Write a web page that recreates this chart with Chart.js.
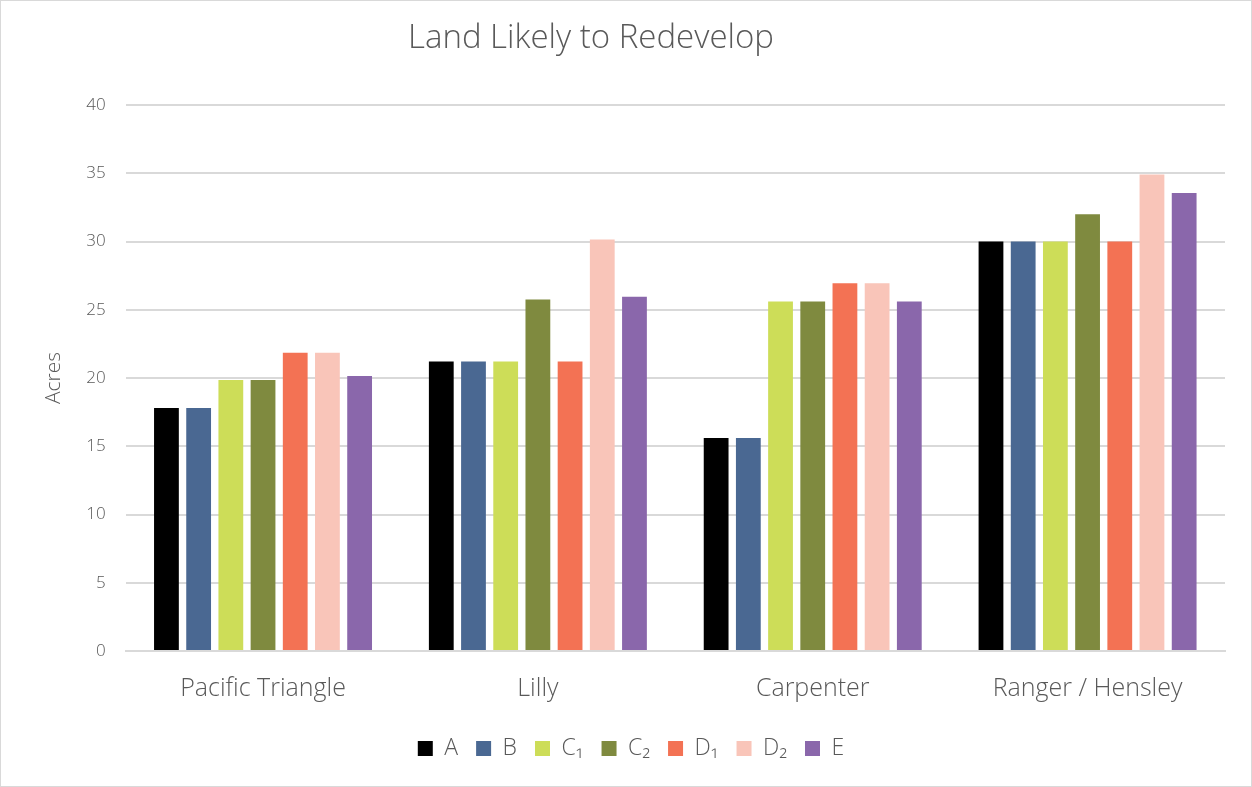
<!DOCTYPE html>
<html>
<head>
<meta charset="utf-8">
<script src="https://cdn.jsdelivr.net/npm/chart.js@4"></script>
<style>
  html, body { margin: 0; padding: 0; background: #fff; }
  #wrap { position: relative; width: 1252px; height: 787px; box-sizing: border-box; border: 1px solid #d9d9d9; }
  canvas { display: block; }
</style>
</head>
<body>
<div id="wrap"><canvas id="landChart" width="1250" height="785"></canvas></div>
<script>
const areas = ["Pacific Triangle", "Lilly", "Carpenter", "Ranger / Hensley"];
const seriesNames = ["A", "B", "C\u2081", "C\u2082", "D\u2081", "D\u2082", "E"];
const seriesColors = ["#000000", "#4a6892", "#cddd58", "#7f8a3f", "#f37254", "#f9c5b9", "#8a67ab"];
const valuesA  = [17.8, 21.2, 15.6, 30.0];
const valuesB  = [17.8, 21.2, 15.6, 30.0];
const valuesC1 = [19.85, 21.2, 25.6, 30.0];
const valuesC2 = [19.85, 25.75, 25.6, 32.0];
const valuesD1 = [21.85, 21.2, 26.95, 30.0];
const valuesD2 = [21.85, 30.15, 26.95, 34.9];
const valuesE  = [20.15, 25.95, 25.6, 33.55];
const yTicks = [0, 5, 10, 15, 20, 25, 30, 35, 40];

const allValues = [valuesA, valuesB, valuesC1, valuesC2, valuesD1, valuesD2, valuesE];
const fontFam = "'Open Sans', 'DejaVu Sans', sans-serif";

// title sits left of centre in the original, so draw it ourselves
const titlePlugin = {
    id: "offsetTitle",
    afterDraw(chart) {
        const c = chart.ctx;
        c.save();
        c.font = "300 33px " + fontFam;
        c.fillStyle = "#595959";
        c.textAlign = "center";
        c.textBaseline = "middle";
        c.fillText("Land Likely to Redevelop", 590, 38);
        c.restore();
    }
};

new Chart(document.getElementById("landChart"), {
    type: "bar",
    data: {
        labels: areas,
        datasets: seriesNames.map((name, i) => ({
            label: name,
            data: allValues[i],
            backgroundColor: seriesColors[i],
            categoryPercentage: 0.82,
            barPercentage: 0.77
        }))
    },
    options: {
        responsive: false,
        animation: false,
        layout: { padding: { top: 104, right: 26, bottom: 16, left: 36 } },
        plugins: {
            title: { display: false },
            tooltip: { enabled: false },
            legend: {
                position: "bottom",
                labels: {
                    boxWidth: 15,
                    boxHeight: 15,
                    padding: 18,
                    color: "#595959",
                    font: { family: fontFam, size: 23, weight: 300 }
                }
            }
        },
        scales: {
            x: {
                grid: { display: false },
                border: { display: true, color: "#d9d9d9", width: 2 },
                ticks: { color: "#595959", padding: 15, font: { family: fontFam, size: 25, weight: 300 } }
            },
            y: {
                min: 0,
                max: 40,
                afterBuildTicks(axis) { axis.ticks = yTicks.map(v => ({ value: v })); },
                grid: { color: "#d9d9d9", lineWidth: 2, drawTicks: false },
                border: { display: false },
                ticks: { color: "#595959", padding: 20, font: { family: fontFam, size: 17, weight: 300 } },
                title: {
                    display: true,
                    text: "Acres",
                    color: "#595959",
                    padding: { top: 4, bottom: 0 },
                    font: { family: fontFam, size: 21, weight: 300 }
                }
            }
        }
    },
    plugins: [titlePlugin]
});
</script>
</body>
</html>
